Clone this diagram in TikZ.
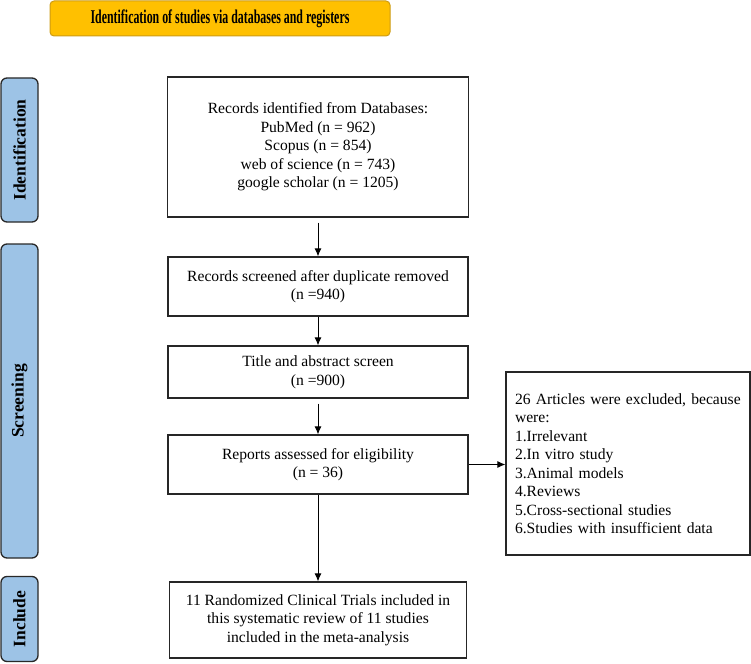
\documentclass[tikz,border=0pt]{standalone}
\usepackage{fontspec}
\setmainfont{Liberation Serif}
\newfontfamily\narrowbold[FakeStretch=0.61]{Liberation Serif}
\usetikzlibrary{arrows.meta,calc}
\definecolor{titlefill}{RGB}{255,192,0}
\definecolor{titledraw}{RGB}{205,155,20}
\definecolor{barfill}{RGB}{157,195,230}
\definecolor{bardraw}{RGB}{40,40,40}
\tikzset{
  box/.style={draw=black!85, line width=1.3pt, align=center, inner sep=2pt,
    font=\fontsize{15.6}{18.5}\selectfont},
  bar/.style={draw=bardraw, fill=barfill, line width=1.3pt, rounded corners=6pt,
    minimum width=37pt},
  barlabel/.style={rotate=90, font=\fontsize{17.5}{20}\selectfont\bfseries},
  arr/.style={-{Latex[length=8pt,width=7pt]}, line width=0.9pt, black}
}
\begin{document}
\begin{tikzpicture}[x=1pt,y=-1pt]
\useasboundingbox (0,0) rectangle (751,663);
% title
\node[draw=titledraw, fill=titlefill, line width=1pt, rounded corners=4pt,
  minimum width=340pt, minimum height=35pt, inner sep=0pt,
  font=\fontsize{19.5}{21}\narrowbold\bfseries] (title) at (220,18.5)
  {Identification of studies via databases and registers};
% side bars
\node[bar, minimum height=144pt] (bid) at (19.5,150) {};
\node[barlabel] (lid) at (bid.center) {Identification};
\node[bar, minimum height=314pt] (bsc) at (19.5,401) {};
\node[barlabel] (lsc) at (bsc.center) {Screening};
\node[bar, minimum height=85pt] (bin) at (19.5,619) {};
\node[barlabel] (lin) at (bin.center) {Include};
% main boxes
\node[box, minimum width=301pt, minimum height=140pt] (b1) at (318,147)
  {Records identified from Databases:\\PubMed (n = 962)\\Scopus (n = 854)\\web of science (n = 743)\\google scholar (n = 1205)};
\node[box, minimum width=300pt, minimum height=59pt] (b2) at (318,286.5)
  {Records screened after duplicate removed\\(n =940)};
\node[box, minimum width=300pt, minimum height=52pt] (b3) at (318,372)
  {Title and abstract screen\\(n =900)};
\node[box, minimum width=300pt, minimum height=59pt] (b4) at (318,464.5)
  {Reports assessed for eligibility\\(n = 36)};
\node[box, minimum width=297pt, minimum height=76pt] (b5) at (318,620)
  {11 Randomized Clinical Trials included in\\this systematic review of 11 studies\\included in the meta-analysis};
\node[box, align=left, text width=226pt, minimum width=244pt, minimum height=183pt,
  inner xsep=9pt] (ex) at (628,463.5)
  {26 Articles were excluded, because\\were:\\1.Irrelevant\\2.In vitro study\\3.Animal models\\4.Reviews\\5.Cross-sectional studies\\6.Studies with insufficient data};
% arrows
\draw[arr, shorten <=5pt] (b1.south) -- (b2.north);
\draw[arr] (b2.south) -- (b3.north);
\draw[arr, shorten <=5pt] (b3.south) -- (b4.north);
\draw[arr] (b4.south) -- (b5.north);
\draw[arr] (b4.east) -- (ex.west |- b4.east);
\end{tikzpicture}
\end{document}
